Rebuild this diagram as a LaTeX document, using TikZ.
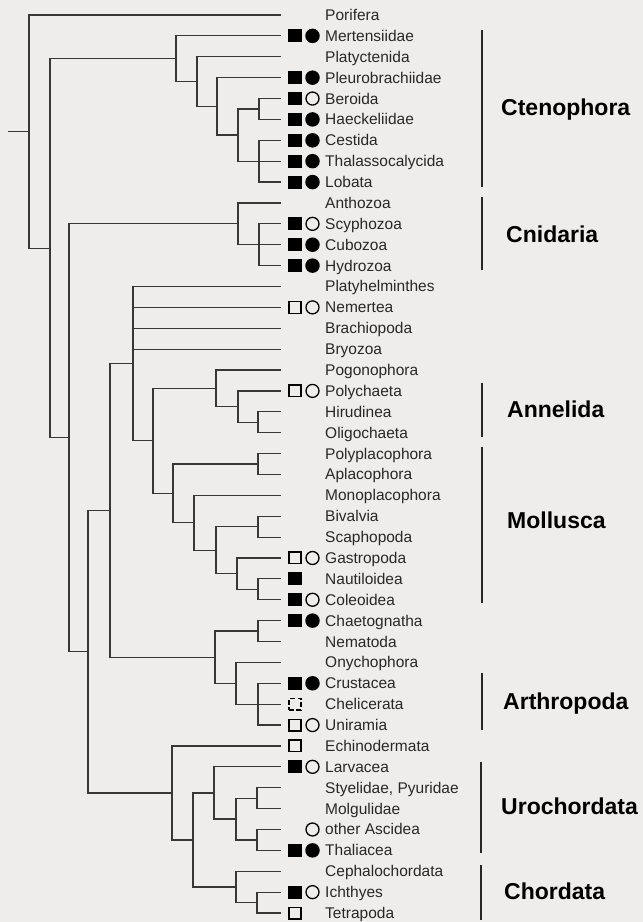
\documentclass[tikz,border=0pt]{standalone}
\usepackage{fontspec}
\setmainfont{Liberation Sans}
\usepackage{tikz}
\definecolor{treeGray}{RGB}{55,55,55}
\definecolor{labelGray}{RGB}{40,40,40}
\definecolor{paperGray}{RGB}{238,237,236}

\begin{document}
\begin{tikzpicture}[x=1pt,y=-20.884pt,
  branch/.style={treeGray,line width=1.2pt},
  taxon/.style={anchor=base west,inner sep=0pt,yshift=-5.5pt,text=labelGray,font=\fontsize{15.5}{16}\selectfont},
  phylum/.style={anchor=base west,inner sep=0pt,yshift=-8.2pt,font=\bfseries\fontsize{23}{24}\selectfont},
  groupbar/.style={black!85,line width=1.6pt},
  sqfull/.style={fill=black,minimum width=13.5pt,minimum height=13pt,inner sep=0pt},
  sqopen/.style={draw=black,line width=1.3pt,minimum width=12.2pt,minimum height=11.7pt,inner sep=0pt},
  sqbroken/.style={sqopen,dash pattern=on 5pt off 2.5pt},
  cifull/.style={circle,fill=black,minimum size=14.5pt,inner sep=0pt},
  ciopen/.style={circle,draw=black,line width=1.3pt,minimum size=13pt,inner sep=0pt}]
\fill[paperGray] (0pt,0pt) rectangle (643pt,-922pt);
\useasboundingbox (0pt,0pt) rectangle (643pt,-922pt);
\begin{scope}[yshift=-15pt]
% taxa: row / name / square (1 full, 2 open, 3 broken) / circle (1 full, 2 open)
\foreach \k/\name/\sq/\ci in {0/Porifera/0/0,1/Mertensiidae/1/1,2/Platyctenida/0/0,3/Pleurobrachiidae/1/1,
  4/Beroida/1/2,5/Haeckeliidae/1/1,6/Cestida/1/1,7/Thalassocalycida/1/1,8/Lobata/1/1,
  9/Anthozoa/0/0,10/Scyphozoa/1/2,11/Cubozoa/1/1,12/Hydrozoa/1/1,
  13/Platyhelminthes/0/0,14/Nemertea/2/2,15/Brachiopoda/0/0,16/Bryozoa/0/0,
  17/Pogonophora/0/0,18/Polychaeta/2/2,19/Hirudinea/0/0,20/Oligochaeta/0/0,
  21/Polyplacophora/0/0,22/Aplacophora/0/0,23/Monoplacophora/0/0,24/Bivalvia/0/0,25/Scaphopoda/0/0,
  26/Gastropoda/2/2,27/Nautiloidea/1/0,28/Coleoidea/1/2,29/Chaetognatha/1/1,30/Nematoda/0/0,
  31/Onychophora/0/0,32/Crustacea/1/1,33/Chelicerata/3/0,34/Uniramia/2/2,35/Echinodermata/2/0,
  36/Larvacea/1/2,37/{Styelidae, Pyuridae}/0/0,38/Molgulidae/0/0,39/other Ascidea/0/2,40/Thaliacea/1/1,
  41/Cephalochordata/0/0,42/Ichthyes/1/2,43/Tetrapoda/2/0}{
  \coordinate (t\k) at (281,\k);
  \node[taxon] (l\k) at (325,\k) {\name};
  \ifnum\sq=1 \node[sqfull] (s\k) at (295,\k) {};\fi
  \ifnum\sq=2 \node[sqopen] (s\k) at (295,\k) {};\fi
  \ifnum\sq=3 \node[sqbroken] (s\k) at (295,\k) {};\fi
  \ifnum\ci=1 \node[cifull] (c\k) at (312.5,\k) {};\fi
  \ifnum\ci=2 \node[ciopen] (c\k) at (312.5,\k) {};\fi
}
% branching points
\coordinate (stub) at (8,5.584);
\coordinate (root) at (29,5.584);
\coordinate (nMe) at (50,11.168);
\coordinate (nCt) at (176,2.094);
\coordinate (nPt) at (197,3.188);
\coordinate (nPl) at (217,4.375);
\coordinate (nBC) at (238,5.75);
\coordinate (nBH) at (259,4.5);
\coordinate (nCTL) at (259,7);
\coordinate (nEu) at (69,20.243);
\coordinate (nCn) at (238,10);
\coordinate (nCHy) at (259,11);
\coordinate (nBi) at (88,30.486);
\coordinate (nPr) at (110,23.72);
\coordinate (nLo) at (133,16.695);
\coordinate (nSp) at (153,20.39);
\coordinate (nAn) at (216,17.875);
\coordinate (nPo) at (238,18.75);
\coordinate (nOl) at (258,19.5);
\coordinate (nMo) at (173,22.906);
\coordinate (nPA) at (258,21.5);
\coordinate (nMp) at (194,24.313);
\coordinate (nCo) at (216,25.625);
\coordinate (nBS) at (258,24.5);
\coordinate (nGa) at (237,26.75);
\coordinate (nNC) at (258,27.5);
\coordinate (nEc) at (215,30.75);
\coordinate (nCN) at (258,29.5);
\coordinate (nOn) at (236,32);
\coordinate (nAr) at (258,33);
\coordinate (nDe) at (172,37.25);
\coordinate (nUC) at (193,39.5);
\coordinate (nUr) at (214,37.25);
\coordinate (nAs) at (236,38.5);
\coordinate (nSM) at (257,37.5);
\coordinate (nAT) at (257,39.5);
\coordinate (nCh) at (236,41.75);
\coordinate (nIT) at (257,42.5);
\draw[branch] (stub) -- (root);
\foreach \a/\b in {root/t0,root/nMe,nMe/nCt,nMe/nEu,nCt/t1,nCt/nPt,nPt/t2,nPt/nPl,nPl/t3,nPl/nBC,
  nBC/nBH,nBC/nCTL,nBH/t4,nBH/t5,nCTL/t6,nCTL/t7,nCTL/t8,
  nEu/nCn,nEu/nBi,nCn/t9,nCn/nCHy,nCHy/t10,nCHy/t11,nCHy/t12,
  nBi/nPr,nBi/nDe,nPr/nLo,nPr/nEc,nLo/t13,nLo/t14,nLo/t15,nLo/t16,nLo/nSp,
  nSp/nAn,nSp/nMo,nAn/t17,nAn/nPo,nPo/t18,nPo/nOl,nOl/t19,nOl/t20,
  nMo/nPA,nMo/nMp,nPA/t21,nPA/t22,nMp/t23,nMp/nCo,nCo/nBS,nCo/nGa,nBS/t24,nBS/t25,
  nGa/t26,nGa/nNC,nNC/t27,nNC/t28,
  nEc/nCN,nEc/nOn,nCN/t29,nCN/t30,nOn/t31,nOn/nAr,nAr/t32,nAr/t33,nAr/t34,
  nDe/t35,nDe/nUC,nUC/nUr,nUC/nCh,nUr/t36,nUr/nAs,nAs/nSM,nAs/nAT,nSM/t37,nSM/t38,
  nAT/t39,nAT/t40,nCh/t41,nCh/nIT,nIT/t42,nIT/t43}
  \draw[branch] (\a) |- (\b);
% group bars and names
\draw[groupbar] (482,0.72) -- (482,8.24);
\draw[groupbar] (482,8.72) -- (482,12.21);
\draw[groupbar] (482,17.62) -- (482,20.21);
\draw[groupbar] (482,20.69) -- (482,28.15);
\draw[groupbar] (482,31.5) -- (482,34.24);
\draw[groupbar] (481,35.77) -- (481,40.13);
\draw[groupbar] (481,40.7) -- (481,43.33);
\node[phylum] (ctn) at (501,4.4) {Ctenophora};
\node[phylum] (cni) at (506,10.5) {Cnidaria};
\node[phylum] (ann) at (507,18.9) {Annelida};
\node[phylum] (mol) at (507,24.2) {Mollusca};
\node[phylum] (art) at (503,32.88) {Arthropoda};
\node[phylum] (uro) at (501,37.9) {Urochordata};
\node[phylum] (cho) at (504,41.96) {Chordata};
\end{scope}
\end{tikzpicture}
\end{document}
